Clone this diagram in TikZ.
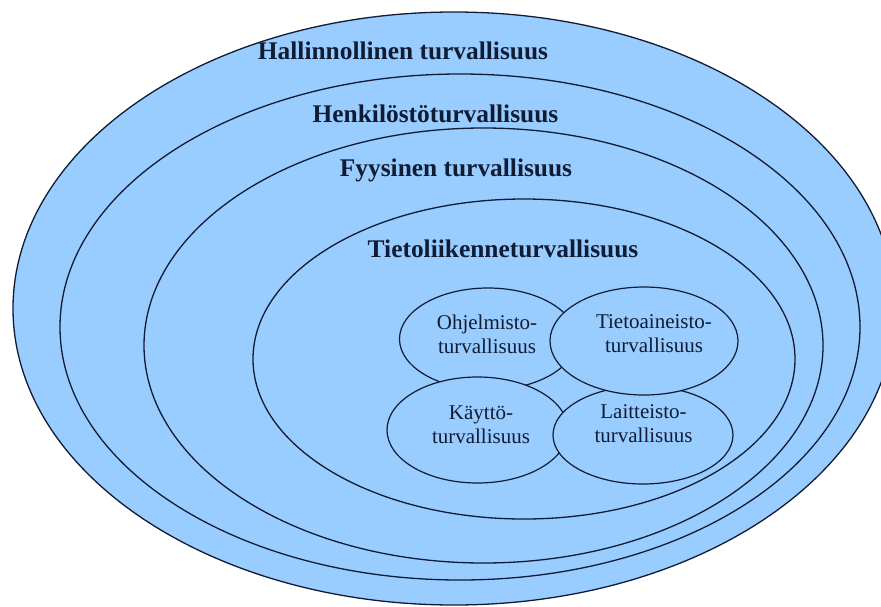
\documentclass[tikz,border=0pt]{standalone}
\usepackage{fontspec}
\setmainfont{Liberation Serif}
\usetikzlibrary{shapes.geometric}
\definecolor{skyfill}{RGB}{153,204,255}
\definecolor{inkline}{RGB}{16,28,52}

\begin{document}
\begin{tikzpicture}[x=1pt,y=-1pt,
    ring/.style={ellipse,draw=inkline,fill=skyfill,line width=1.3pt,inner sep=0pt},
    bubble/.style={ellipse,draw=inkline,fill=skyfill,line width=1.2pt,inner sep=0pt},
    ringlabel/.style={anchor=base,text=inkline,inner sep=0pt,
      font=\fontsize{25.4}{30}\selectfont\bfseries},
    bubbletext/.style={align=center,text=inkline,inner sep=0pt,
      font=\fontsize{21}{24.5}\selectfont}]
  \useasboundingbox (0,0) rectangle (881,606);
  \clip (0,0) rectangle (881,606);

  % nested rings
  \node[ring,minimum width=882pt,minimum height=593pt] (hall) at (454,308.5) {};
  \node[ring,minimum width=800pt,minimum height=506pt] (henk) at (460,327) {};
  \node[ring,minimum width=679pt,minimum height=435pt] (fyys) at (483.5,345.5) {};
  \node[ring,minimum width=542pt,minimum height=320pt] (tlik) at (524,359) {};

  % inner bubbles
  \node[bubble,minimum width=177pt,minimum height=102pt] (ohj) at (488,339) {};
  \node[bubble,minimum width=181pt,minimum height=106pt] (kay) at (477.5,430) {};
  \node[bubble,minimum width=180pt,minimum height=98pt] (lai) at (643,435) {};
  \node[bubble,minimum width=188pt,minimum height=108pt] (tda) at (644,341) {};

  % labels
  \node[ringlabel] (hallT) at (403,59) {Hallinnollinen turvallisuus};
  \node[ringlabel] (henkT) at (435.5,122) {Henkilöstöturvallisuus};
  \node[ringlabel] (fyysT) at (456,176) {Fyysinen turvallisuus};
  \node[ringlabel] (tlikT) at (503,257) {Tietoliikenneturvallisuus};

  \node[bubbletext] (ohjT) at (487,334.5) {Ohjelmisto-\\turvallisuus};
  \node[bubbletext] (tdaT) at (654,333.5) {Tietoaineisto-\\turvallisuus};
  \node[bubbletext] (kayT) at (481,424.5) {Käyttö-\\turvallisuus};
  \node[bubbletext] (laiT) at (643.5,423.5) {Laitteisto-\\turvallisuus};
\end{tikzpicture}
\end{document}
